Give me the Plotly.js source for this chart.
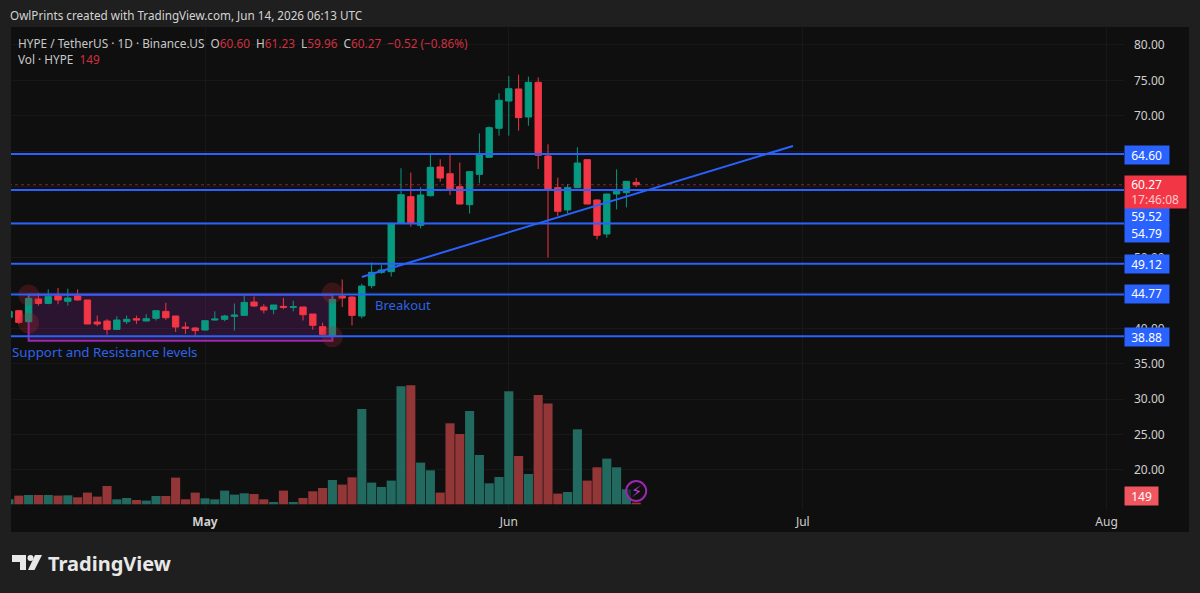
<!DOCTYPE html>
<html><head><meta charset="utf-8">
<script src="https://cdn.plot.ly/plotly-3.0.1.min.js"></script>
<style>html,body{margin:0;padding:0;background:#1f1f1f}#c{width:1200px;height:593px}</style>
</head><body><div id="c"></div>
<script>
// Daily candles, first day 2026-04-11
const dates = [];
const startDay = Date.UTC(2026, 3, 11);
const open_ = [41.55,42.49,40.94,44.14,43.52,44.56,43.81,44.56,44.00,40.89,41.03,39.85,40.94,41.36,41.03,41.41,42.39,41.74,40.18,40.04,39.76,41.17,41.27,41.69,41.83,43.71,43.01,42.68,43.10,42.96,43.01,42.02,40.23,38.91,44.56,44.42,41.74,46.02,47.90,48.00,54.82,58.59,54.54,58.73,62.78,61.83,60.00,57.46,61.74,64.14,68.24,72.09,73.79,69.83,74.73,64.33,59.86,56.71,59.86,63.81,58.12,53.32,58.96,59.15,60.60];
const high_ = [42.60,42.60,44.80,45.00,45.50,45.70,45.60,45.50,44.00,41.80,41.30,41.70,41.80,41.80,42.00,42.50,43.60,41.74,40.90,40.20,41.10,42.40,41.90,43.50,44.60,44.50,43.40,43.30,44.30,43.90,43.00,42.00,40.80,44.40,46.90,44.50,46.30,49.30,48.94,54.82,62.60,61.98,59.90,64.47,63.86,64.70,63.40,62.20,67.53,68.50,73.18,75.62,75.80,75.53,75.43,65.98,61.27,60.33,65.55,63.90,58.20,59.00,62.45,60.80,61.23];
const low_ = [41.40,40.60,40.80,43.20,43.40,43.40,43.20,43.90,40.60,40.30,39.10,39.80,40.60,40.60,41.00,41.10,41.20,39.50,39.20,39.00,39.70,41.10,41.00,39.70,41.80,43.00,42.10,42.00,42.70,42.40,41.10,39.80,39.00,38.80,43.00,40.40,41.40,45.65,47.70,47.30,54.80,54.35,54.10,58.60,60.70,58.80,57.50,56.20,60.47,64.10,67.20,67.20,67.90,68.60,62.50,50.00,55.86,56.20,59.80,57.50,52.56,52.80,56.80,57.08,59.96];
const close_ = [42.39,40.84,44.23,43.52,44.47,44.00,44.28,44.00,40.61,40.61,39.85,41.17,41.27,41.17,41.36,42.49,41.50,40.18,40.00,39.67,41.08,41.31,41.74,41.88,43.66,43.15,42.58,43.29,42.96,43.05,41.92,40.42,39.15,44.09,44.28,41.83,45.97,47.90,48.24,54.82,58.87,54.92,58.82,62.73,61.22,59.53,57.55,62.12,64.47,68.33,72.19,73.83,69.74,74.73,64.42,59.53,56.52,59.86,63.34,57.55,53.13,58.96,59.34,60.75,60.27];
// Volume, in relative units
const volume = [5,8.7,9.3,9.3,9.3,8.7,9,7,11.7,7.7,18.3,5,6.3,4.3,3.7,8.3,8.3,26.7,5,11.7,6,5,13.7,9.7,11,10.3,5,2.3,13.7,2.3,6.3,13,16.3,24.3,19.7,27,95.3,21.7,17.3,23.7,118,119,41.7,34,11.7,81,70.3,93.3,49.3,21,27.3,113,48.3,30.3,109.3,100.7,10.7,12.3,75,23.7,37,45.7,37,15,1.7];
for (let i = 0; i < open_.length; i++) dates.push(new Date(startDay + i * 864e5).toISOString().slice(0, 10));

const levels = [64.60, 54.79, 49.12, 44.77, 38.88, 59.52];
const lastPrice = 60.27;
const trendX = ['2026-05-17', '2026-06-30'];
const trendY = [47.25, 65.74];
const boxX = ['2026-04-13', '2026-05-14'];
const boxY = [38.25, 44.75];
const pivotX = ['2026-04-13', '2026-04-13', '2026-05-14', '2026-05-14'];
const pivotY = [44.7, 40.75, 45.0, 38.8];
const priceTicks = [80,75,70,50,40,35,30,25,20];
const hiddenGrid = [65,60,55,45];
const monthVals = ['2026-05-01', '2026-06-01', '2026-07-01', '2026-08-01'];
const monthText = ['<b>May</b>', 'Jun', 'Jul', 'Aug'];

const xFrom = '2026-04-11 04:48', xTo = '2026-08-02 18:43';
const L = 11, R = 1124, T = 27, B = 510;
const FONT = '"Noto Sans", sans-serif';
const BLUE = '#2962ff', GREEN = '#089981', RED = '#f23645';
const px = x => (x - L) / (R - L), py = y => 1 - (y - T) / (B - T);
const colors = close_.map((c, i) => c >= open_[i] ? '#22695f' : '#933638');

const traces = [];
traces.push({type: 'bar', x: dates, y: volume, yaxis: 'y2', marker: {color: colors, line: {width: 0}}, hoverinfo: 'skip'});
traces.push({type: 'scatter', mode: 'markers', x: pivotX, y: pivotY, hoverinfo: 'skip',
  marker: {size: 21, color: 'rgba(178,40,51,0.27)', line: {width: 0}}});
traces.push({type: 'scatter', mode: 'lines', x: [dates[0], xTo], y: [lastPrice, lastPrice], hoverinfo: 'skip',
  line: {color: 'rgba(242,54,69,0.55)', width: 1, dash: 'dot'}});
levels.forEach(v => traces.push({type: 'scatter', mode: 'lines', x: [xFrom, xTo], y: [v, v], hoverinfo: 'skip',
  line: {color: BLUE, width: 2}}));
traces.push({type: 'candlestick', x: dates, open: open_, high: high_, low: low_, close: close_, hoverinfo: 'skip',
  increasing: {line: {color: GREEN, width: 1}, fillcolor: GREEN},
  decreasing: {line: {color: RED, width: 1}, fillcolor: RED}, whiskerwidth: 0});
traces.push({type: 'scatter', mode: 'lines', x: trendX, y: trendY, hoverinfo: 'skip', line: {color: BLUE, width: 2}});
traces.push({type: 'scatter', mode: 'markers', x: ['2026-06-14'], y: [13.3], yaxis: 'y2', hoverinfo: 'skip',
  marker: {size: 20, color: 'rgba(15,15,15,0.6)', line: {color: '#9c27b0', width: 2}}});

const shapes = [
  {type: 'rect', xref: 'paper', yref: 'paper', layer: 'below', x0: 0, x1: px(1189), y0: py(532), y1: 1, fillcolor: '#0f0f0f', line: {width: 0}},
  {type: 'rect', xref: 'x', yref: 'y', layer: 'between', x0: boxX[0], x1: boxX[1], y0: boxY[0], y1: boxY[1], fillcolor: 'rgba(156,39,176,0.2)', line: {color: '#9c27b0', width: 2}},
  {type: 'path', xref: 'paper', yref: 'paper', layer: 'above', fillcolor: '#e8e8e8', line: {width: 0},
    path: `M${px(12)},${py(555)}L${px(26)},${py(555)}L${px(26)},${py(570)}L${px(20)},${py(570)}L${px(20)},${py(562)}L${px(12)},${py(562)}Z`},
  {type: 'circle', xref: 'paper', yref: 'paper', layer: 'above', fillcolor: '#e8e8e8', line: {width: 0},
    x0: px(27.5), x1: px(33.5), y0: py(561), y1: py(555)},
  {type: 'path', xref: 'paper', yref: 'paper', layer: 'above', fillcolor: '#e8e8e8', line: {width: 0},
    path: `M${px(35)},${py(555)}L${px(42)},${py(555)}L${px(34.5)},${py(570)}L${px(28)},${py(570)}Z`},
];

const txt = (x, y, text, size, color, extra) => Object.assign({xref: 'paper', yref: 'paper', x: px(x), y: py(y), text, showarrow: false,
  xanchor: 'left', yanchor: 'middle', font: {family: FONT, size, color}}, extra || {});
const tag = (y0, y1, text, bg, w, fc) => txt(1124, (y0 + y1) / 2, text, 12, fc || '#ffffff',
  {bgcolor: bg, width: w, height: y1 - y0, borderpad: 0, align: 'left', xshift: 0});
const r = s => `<span style="color:#d0303f">${s}</span>`;

const annotations = [
  txt(8, 15, 'OwlPrints created with TradingView.com, Jun 14, 2026 06:13 UTC', 11.7, '#d4d4d4'),
  txt(16, 43, `HYPE / TetherUS · 1D · Binance.US  O${r('60.60')}  H${r('61.23')}  L${r('59.96')}  C${r('60.27')}  ${r('−0.52 (−0.86%)')}`, 11.8, '#c8c8c8'),
  txt(16, 59, `Vol · HYPE  ${r('149')}`, 11.8, '#c8c8c8'),
  txt(10, 352, 'Support and Resistance levels', 13.3, '#2f62e8'),
  txt(373, 305, 'Breakout', 13, '#2f62e8'),
  txt(46, 563, '<b>TradingView</b>', 20, '#e8e8e8'),
  tag(145.7, 164, '  ' + levels[0].toFixed(2), BLUE, 44),
  tag(207.7, 225, '  ' + levels[5].toFixed(2), BLUE, 44),
  tag(225, 242, '  ' + levels[1].toFixed(2), BLUE, 44),
  tag(255, 273, '  ' + levels[2].toFixed(2), BLUE, 44),
  tag(285.5, 303, '  ' + levels[3].toFixed(2), BLUE, 44),
  tag(328, 346, '  ' + levels[4].toFixed(2), BLUE, 44),
  tag(176, 208, '  ' + lastPrice.toFixed(2) + '<br>  <span style="color:#ffc9cd">17:46:08</span>', RED, 61),
  tag(487, 505, '  149', '#f0565f', 33),
  {xref: 'x', yref: 'y2', x: '2026-06-14', y: 13.3, text: '⚡', showarrow: false, font: {family: '"DejaVu Sans"', size: 16, color: '#b13fd1'}},
];

const layout = {
  width: 1200, height: 593, showlegend: false, bargap: 0.07, boxgap: 0.35, boxgroupgap: 0, hovermode: false,
  paper_bgcolor: '#1f1f1f', plot_bgcolor: 'rgba(0,0,0,0)',
  margin: {l: L, r: 1200 - R, t: T, b: 593 - B, pad: 0},
  font: {family: FONT, size: 12, color: '#cfcfcf'},
  xaxis: {type: 'date', range: [xFrom, xTo], tickmode: 'array', tickvals: monthVals, ticktext: monthText,
    showgrid: true, gridcolor: '#181818', gridwidth: 1, zeroline: false, showline: false, ticks: '',
    ticklabelstandoff: 3, tickfont: {family: FONT, size: 12, color: '#cfcfcf'}, rangeslider: {visible: false}, fixedrange: true},
  yaxis: {side: 'right', range: [14.35, 82.54], tickmode: 'array', tickvals: priceTicks,
    ticktext: priceTicks.map(v => v.toFixed(2)), showgrid: true, gridcolor: '#181818', zeroline: false, showline: false, ticks: '',
    minor: {tickmode: 'array', tickvals: hiddenGrid, showgrid: true, gridcolor: '#181818', ticks: ''},
    ticklabelstandoff: 9, tickfont: {family: FONT, size: 12, color: '#cfcfcf'}, fixedrange: true},
  yaxis2: {overlaying: 'y', side: 'left', range: [-5.7, 477.3], visible: false, fixedrange: true},
  shapes, annotations
};
Plotly.newPlot('c', traces, layout, {displayModeBar: false, staticPlot: true});
</script></body></html>
